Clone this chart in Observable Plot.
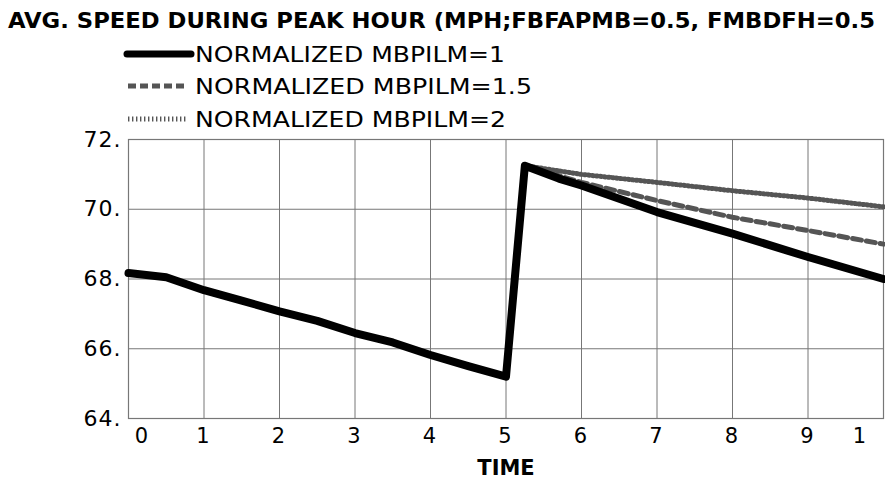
<!DOCTYPE html>
<html><head><meta charset="utf-8">
<script src="https://cdn.jsdelivr.net/npm/d3@7"></script>
<script src="https://cdn.jsdelivr.net/npm/@observablehq/plot@0.6"></script>
<style>
body{margin:0;background:#fff;font-family:"DejaVu Sans",sans-serif;}
#chart{width:885px;}
#chart svg{display:block;}
g[aria-label="y-axis tick label"] text{letter-spacing:1px;}
</style></head><body><div id="chart"></div>
<script>
// ---- data ----
const titleText = "AVG. SPEED DURING PEAK HOUR (MPH;FBFAPMB=0.5, FMBDFH=0.5";
const xLabel = "TIME";
const seriesNames = ["NORMALIZED MBPILM=1", "NORMALIZED MBPILM=1.5", "NORMALIZED MBPILM=2"];
const time1 = [0, 0.5, 1, 1.5, 2, 2.5, 3, 3.5, 4, 4.5, 5, 5.25, 5.7, 6, 7, 8, 9, 10];
const speed1 = [68.17, 68.05, 67.68, 67.38, 67.07, 66.8, 66.45, 66.18, 65.82, 65.5, 65.2, 71.25, 70.88, 70.68, 69.92, 69.3, 68.63, 68.0];
const time15 = [5.25, 6, 7, 8, 9, 10];
const speed15 = [71.25, 70.77, 70.25, 69.77, 69.39, 69.0];
const time2 = [5.25, 6, 7, 8, 9, 10];
const speed2 = [71.25, 71.0, 70.77, 70.53, 70.32, 70.07];
const xTicks = [0, 1, 2, 3, 4, 5, 6, 7, 8, 9, 10];
const xTickLabels = ["0", "1", "2", "3", "4", "5", "6", "7", "8", "9", "1"];
const yTicks = [64, 66, 68, 70, 72];
const yTickLabels = ["64.", "66.", "68.", "70.", "72."];

// ---- styles ----
const FONT = '"DejaVu Sans", sans-serif';
const seriesStyle = [
  {stroke: "#000", strokeWidth: 8},
  {stroke: "#555", strokeWidth: 5, strokeDasharray: "9,5"},
  {stroke: "#555", strokeWidth: 5, strokeDasharray: "1.4,2.6"}
];

// ---- header: title + legend ----
const header = d3.create("svg").attr("width", 885).attr("height", 132)
  .style("font-family", FONT);
header.append("text").attr("x", 8).attr("y", 28)
  .attr("font-weight", "bold").attr("font-size", 21)
  .attr("textLength", 867).attr("lengthAdjust", "spacingAndGlyphs")
  .text(titleText);
const rowY = [54, 86, 119];
const rowLen = [310, 337, 311];
const swatchEnd = [191, 188, 186];
seriesNames.forEach((name, i) => {
  const s = seriesStyle[i];
  header.append("line")
    .attr("x1", i === 0 ? 127 : 128).attr("x2", swatchEnd[i])
    .attr("y1", rowY[i]).attr("y2", rowY[i])
    .attr("stroke", s.stroke)
    .attr("stroke-width", i === 0 ? 7 : 5)
    .attr("stroke-linecap", i === 0 ? "round" : "butt")
    .attr("stroke-dasharray", i === 0 ? null : (i === 1 ? "8,4" : "1.4,2.6"));
  header.append("text").attr("x", 195).attr("y", rowY[i] + 8)
    .attr("font-size", 21.5)
    .attr("textLength", rowLen[i]).attr("lengthAdjust", "spacingAndGlyphs")
    .text(name);
});

// ---- chart ----
const tf = d => xTickLabels[xTicks.indexOf(d)];
const axisOpts = {tickSize: 0, tickPadding: 10, tickFormat: tf, label: null, fontSize: 21};
const chart = Plot.plot({
  width: 885,
  height: 351,
  marginTop: 7,
  marginBottom: 65,
  marginLeft: 128,
  marginRight: 2,
  x: {domain: [0, 10]},
  y: {domain: [64, 72]},
  style: {fontFamily: FONT, fontSize: "21px", color: "#000", background: "#fff", overflow: "visible"},
  marks: [
    Plot.gridX(xTicks, {stroke: "#777", strokeOpacity: 1, strokeWidth: 1}),
    Plot.gridY(yTicks, {stroke: "#777", strokeOpacity: 1, strokeWidth: 1}),
    Plot.frame({stroke: "#777", strokeWidth: 1.2}),
    Plot.axisY(yTicks, {tickSize: 0, tickPadding: 7, label: null, fontSize: 22,
      tickFormat: d => yTickLabels[yTicks.indexOf(d)]}),
    Plot.axisX(xTicks.slice(1, 10), {...axisOpts, dx: -1}),
    Plot.axisX([xTicks[0]], {...axisOpts, dx: 13}),
    Plot.axisX([xTicks[10]], {...axisOpts, dx: -24}),
    Plot.text([xLabel], {text: d => d, frameAnchor: "bottom", dy: 50, lineAnchor: "middle",
      fontWeight: "bold", fontSize: 21}),
    Plot.line(time2, {x: time2, y: speed2, ...seriesStyle[2]}),
    Plot.line(time15, {x: time15, y: speed15, ...seriesStyle[1]}),
    Plot.line(time1, {x: time1, y: speed1, ...seriesStyle[0], strokeLinejoin: "round", strokeLinecap: "round"})
  ]
});

const root = document.getElementById("chart");
root.appendChild(header.node());
root.appendChild(chart);
</script></body></html>
